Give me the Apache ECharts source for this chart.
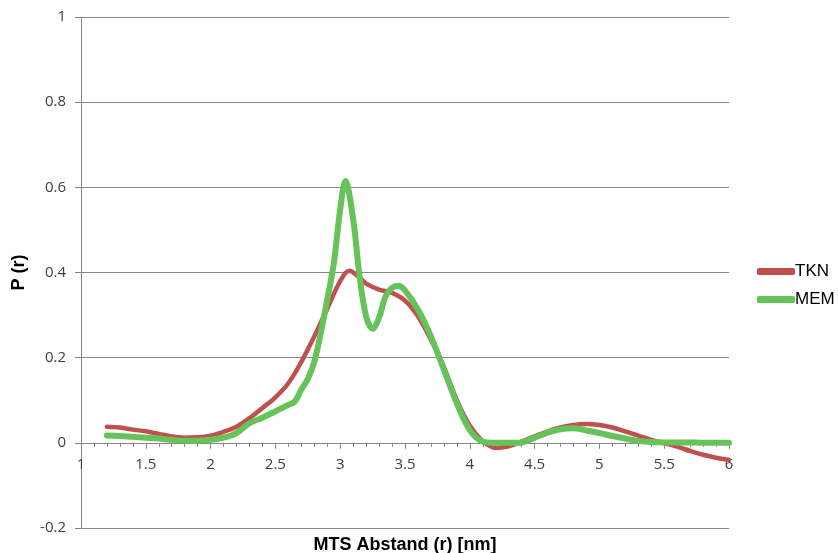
<!DOCTYPE html>
<html>
<head>
<meta charset="utf-8">
<script src="https://cdn.jsdelivr.net/npm/echarts@6/dist/echarts.min.js"></script>
<style>
  html, body { margin: 0; padding: 0; background: #fff; }
  #chart { width: 838px; height: 553px; }
</style>
</head>
<body>
<div id="chart"></div>
<script>
// Distance distributions P(r) over MTS distance r in nm
const tknR = [1.2, 1.3, 1.4, 1.5, 1.6, 1.7, 1.8, 1.9, 2.0, 2.1, 2.2, 2.3, 2.4, 2.5, 2.6, 2.7, 2.8, 2.9, 3.0, 3.07, 3.15, 3.2, 3.3, 3.4, 3.5, 3.6, 3.7, 3.8, 3.9, 4.0, 4.1, 4.2, 4.3, 4.4, 4.5, 4.6, 4.7, 4.8, 4.9, 5.0, 5.1, 5.2, 5.3, 5.4, 5.5, 5.6, 5.7, 5.8, 5.9, 6.0];
const tknP = [0.038, 0.036, 0.031, 0.027, 0.021, 0.015, 0.012, 0.013, 0.017, 0.026, 0.038, 0.058, 0.082, 0.107, 0.140, 0.190, 0.250, 0.315, 0.380, 0.404, 0.388, 0.374, 0.360, 0.352, 0.334, 0.297, 0.242, 0.178, 0.100, 0.040, 0.004, -0.012, -0.008, 0.003, 0.015, 0.027, 0.036, 0.042, 0.044, 0.042, 0.036, 0.027, 0.017, 0.007, -0.001, -0.009, -0.019, -0.028, -0.035, -0.040];

const memR = [1.2, 1.3, 1.4, 1.5, 1.6, 1.7, 1.8, 1.9, 2.0, 2.1, 2.2, 2.3, 2.4, 2.5, 2.6, 2.65, 2.7, 2.75, 2.8, 2.85, 2.9, 2.95, 3.0, 3.04, 3.1, 3.15, 3.2, 3.25, 3.3, 3.35, 3.4, 3.45, 3.5, 3.6, 3.7, 3.8, 3.9, 4.0, 4.1, 4.2, 4.3, 4.4, 4.5, 4.6, 4.7, 4.8, 4.9, 5.0, 5.1, 5.2, 5.3, 5.4, 5.5, 5.6, 5.7, 5.8, 5.9, 6.0];
const memP = [0.017, 0.016, 0.014, 0.012, 0.010, 0.007, 0.005, 0.005, 0.007, 0.012, 0.023, 0.046, 0.059, 0.074, 0.089, 0.097, 0.125, 0.150, 0.190, 0.258, 0.336, 0.420, 0.548, 0.615, 0.525, 0.390, 0.297, 0.268, 0.294, 0.344, 0.364, 0.369, 0.358, 0.313, 0.250, 0.172, 0.093, 0.030, 0.003, 0, 0, 0.001, 0.012, 0.024, 0.032, 0.034, 0.029, 0.023, 0.016, 0.010, 0.005, 0.002, 0.001, 0.001, 0.001, 0, 0, 0];

const seriesNames = ['TKN', 'MEM'];
const xAxisTitle = 'MTS Abstand (r) [nm]';
const yAxisTitle = 'P (r)';

const pairs = (xs, ys) => xs.map((x, i) => [x, ys[i]]);

const axisGray = '#868686';
const labelColor = '#404040';

// plot frame in pixels; the r axis sits on P = 0
const gridTop = 17, gridBottom = 25;
const chartH = 553;
const yMin = -0.2, yMax = 1;
const plotH = chartH - gridTop - gridBottom;
const zeroOffset = plotH * (0 - yMin) / (yMax - yMin);

const chart = echarts.init(document.getElementById('chart'), null, { renderer: 'canvas' });
chart.setOption({
  animation: false,
  backgroundColor: '#ffffff',
  grid: { left: 81, right: 109, top: gridTop, bottom: gridBottom, containLabel: false, outerBoundsMode: 'none' },
  legend: {
    orient: 'vertical',
    left: 757,
    top: 263,
    itemWidth: 38,
    itemHeight: 7,
    itemGap: 11,
    padding: 0,
    icon: 'roundRect',
    textStyle: { fontFamily: 'Liberation Sans, Arial', fontSize: 17, color: '#000', padding: [0, 0, 0, -5] },
    data: seriesNames
  },
  xAxis: {
    type: 'value',
    position: 'bottom',
    offset: -zeroOffset,
    min: 1,
    max: 6,
    interval: 0.5,
    name: xAxisTitle,
    nameLocation: 'middle',
    nameGap: 93,
    nameTextStyle: { fontFamily: 'Liberation Sans, Arial', fontWeight: 'bold', fontSize: 18, color: '#000' },
    axisLine: { onZero: false, lineStyle: { color: axisGray, width: 1 } },
    axisTick: { show: true, inside: false, length: 6, lineStyle: { color: axisGray } },
    minorTick: { show: true, splitNumber: 5, length: 4, lineStyle: { color: axisGray } },
    axisLabel: { fontFamily: 'Open Sans, Noto Sans', fontSize: 15, color: labelColor, margin: 14 },
    splitLine: { show: false }
  },
  yAxis: {
    type: 'value',
    min: yMin,
    max: yMax,
    interval: 0.2,
    name: yAxisTitle,
    nameLocation: 'middle',
    nameGap: 53,
    nameRotate: 90,
    nameTextStyle: { fontFamily: 'Liberation Sans, Arial', fontWeight: 'bold', fontSize: 18, color: '#000' },
    axisLine: { show: true, lineStyle: { color: axisGray, width: 1 } },
    axisTick: { show: true, inside: false, length: 6, lineStyle: { color: axisGray } },
    axisLabel: {
      fontFamily: 'Open Sans, Noto Sans', fontSize: 15, color: labelColor, margin: 15,
      formatter: v => String(Math.round(v * 10) / 10)
    },
    splitLine: { show: true, lineStyle: { color: axisGray, width: 1 } }
  },
  series: [
    {
      name: seriesNames[0],
      type: 'line',
      data: pairs(tknR, tknP),
      smooth: 0.35,
      showSymbol: false,
      symbol: 'none',
      z: 3,
      color: '#C0504D',
      lineStyle: { color: '#C0504D', width: 4.5, cap: 'round', join: 'round' }
    },
    {
      name: seriesNames[1],
      type: 'line',
      data: pairs(memR, memP),
      smooth: 0.35,
      showSymbol: false,
      symbol: 'none',
      z: 4,
      color: '#66C35A',
      lineStyle: { color: '#66C35A', width: 6, cap: 'round', join: 'round' }
    }
  ]
});
</script>
</body>
</html>
